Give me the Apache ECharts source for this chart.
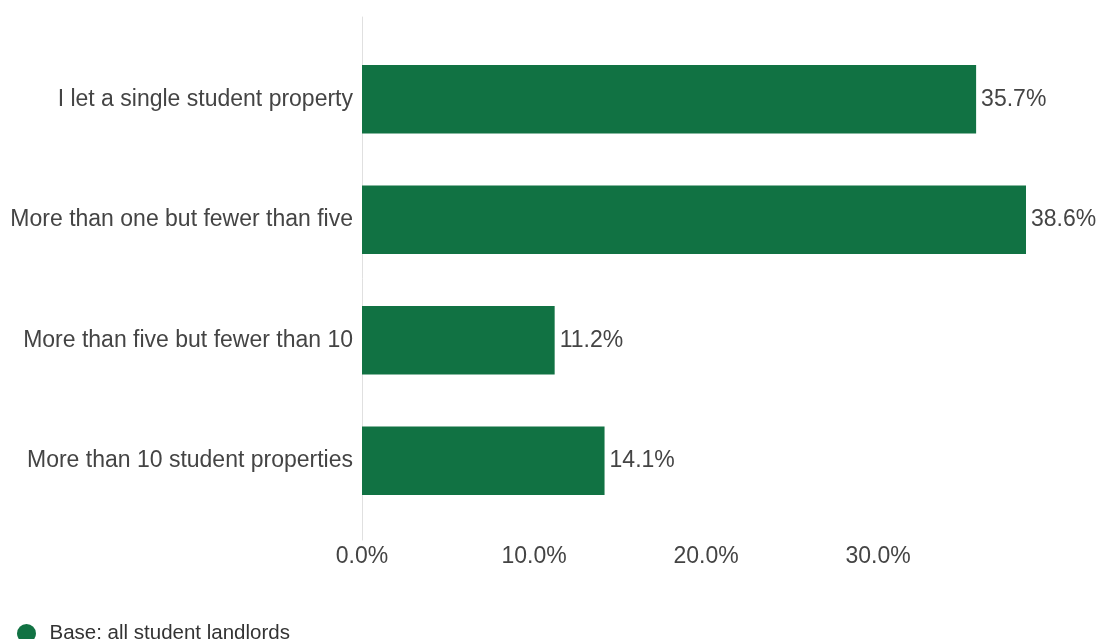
<!DOCTYPE html>
<html>
<head>
<meta charset="utf-8">
<script src="https://cdn.jsdelivr.net/npm/echarts@6/dist/echarts.min.js"></script>
<style>
  html, body { margin: 0; padding: 0; background: #fff; }
  #chart { width: 1100px; height: 639px; }
</style>
</head>
<body>
<div id="chart"></div>
<script>
// Portfolio size of student landlords (share of respondents, %)
const categories = [
  'I let a single student property',
  'More than one but fewer than five',
  'More than five but fewer than 10',
  'More than 10 student properties'
];
const shares = [35.7, 38.6, 11.2, 14.1];
const seriesName = 'Base: all student landlords';
const tickValues = [0, 10, 20, 30];

const GREEN = '#117243';
const TEXT = '#444';
const FONT = 'Liberation Sans, Arial, sans-serif';

const chart = echarts.init(document.getElementById('chart'));
chart.setOption({
  animation: false,
  textStyle: { fontFamily: FONT },
  grid: [
    { left: 362, right: 74, top: 39, bottom: 118 },
    // taller frame that only carries the vertical baseline at 0
    { left: 362, right: 74, top: 17, bottom: 99 }
  ],
  legend: {
    data: [seriesName],
    left: 17,
    top: 623,
    padding: 0,
    icon: 'circle',
    itemWidth: 36,
    itemHeight: 19,
    textStyle: { color: '#333', fontSize: 20.5, fontFamily: FONT }
  },
  xAxis: [
    {
      gridIndex: 0,
      type: 'value',
      min: 0,
      max: 38.6,
      interval: 10,
      splitLine: { show: false },
      axisLine: { show: false },
      axisTick: { show: false },
      axisLabel: {
        color: TEXT,
        fontSize: 23,
        margin: 24,
        showMaxLabel: false,
        formatter: v => tickValues.includes(v) ? v.toFixed(1) + '%' : ''
      }
    },
    {
      gridIndex: 1,
      type: 'value',
      min: 0,
      max: 38.6,
      show: false
    }
  ],
  yAxis: [
    {
      gridIndex: 0,
      type: 'category',
      data: categories,
      inverse: true,
      axisLine: { show: false },
      axisTick: { show: false },
      axisLabel: { color: TEXT, fontSize: 23, margin: 9 }
    },
    {
      gridIndex: 1,
      type: 'value',
      min: 0,
      max: 1,
      axisLine: { show: true, lineStyle: { color: '#e0e0e0', width: 1 } },
      axisTick: { show: false },
      axisLabel: { show: false },
      splitLine: { show: false }
    }
  ],
  series: [
    {
      name: seriesName,
      type: 'bar',
      xAxisIndex: 0,
      yAxisIndex: 0,
      data: shares,
      barWidth: '57%',
      itemStyle: { color: GREEN },
      label: {
        show: true,
        position: 'right',
        distance: 5,
        color: TEXT,
        fontSize: 23,
        formatter: p => p.value.toFixed(1) + '%'
      }
    }
  ]
});
</script>
</body>
</html>
